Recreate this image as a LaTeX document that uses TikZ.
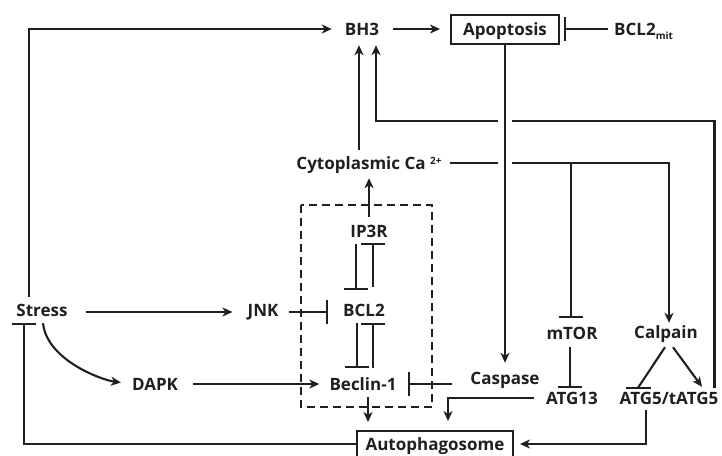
\documentclass[tikz,border=0pt]{standalone}
\usepackage{fontspec}
\setmainfont{Open Sans}
\usetikzlibrary{arrows.meta}
\definecolor{ink}{gray}{0.12}
\begin{document}
\begin{tikzpicture}[x=1pt,y=-1pt,
  lbl/.style={font=\fontsize{17}{19}\selectfont\bfseries, text=ink, inner sep=0pt, text height=12pt, text depth=0pt},
  boxn/.style={lbl, draw=ink, line width=2pt},
  con/.style={draw=ink, line width=2.1pt},
  arr/.style={con, -{Stealth[length=10pt,width=9pt,inset=3pt]}},
  inh/.style={con, -{Bar[width=24pt]}},
  gapline/.style={white, line width=14pt},
  dashbox/.style={draw=ink, line width=1.8pt, dash pattern=on 8pt off 5pt}]
\clip (0,0) rectangle (722,455);
\useasboundingbox (0,0) rectangle (722,455);

% nodes
\node[lbl] (bh3) at (362,29) {BH3};
\node[boxn, minimum width=108pt, minimum height=29pt] (apop) at (505,29) {Apoptosis};
\node[lbl, anchor=west] (bclm) at (614,29) {BCL2\raisebox{-4pt}{\fontsize{10}{10}\selectfont mit}};
\node[lbl] (cyto) at (369,163) {Cytoplasmic Ca \raisebox{5pt}{\fontsize{10}{10}\selectfont 2+}};
\node[lbl] (ip3r) at (369,231) {IP3R};
\node[lbl] (bcl2) at (364,310) {BCL2};
\node[lbl] (beclin) at (363,384) {Beclin-1};
\node[lbl] (jnk) at (263,310) {JNK};
\node[lbl] (stress) at (42,310) {Stress};
\node[lbl] (dapk) at (155,384) {DAPK};
\node[lbl] (casp) at (505,378) {Caspase};
\node[lbl] (mtor) at (572,333) {mTOR};
\node[lbl] (atg13) at (572,398) {ATG13};
\node[lbl] (calpain) at (666,332) {Calpain};
\node[lbl] (atg5) at (669,398) {ATG5/tATG5};
\node[boxn, minimum width=156pt, minimum height=26pt] (auto) at (435,444) {Autophagosome};

\coordinate (bend) at (376,121);

% dashed frame
\draw[dashbox] (301,205) rectangle (432,407);

% connectors
\draw[arr, shorten >=13pt] ([xshift=-13pt,yshift=7pt]stress.north) |- (bh3.west);
\draw[arr, shorten <=14pt, shorten >=10pt] (bh3.east) -- (apop.west);
\draw[inh, shorten <=6pt, shorten >=4pt] (bclm.west) -- (apop.east);
\draw[arr, shorten >=10pt] ([xshift=-4pt,yshift=4pt]atg5.north east) |- (bend) -- (bend |- bh3.south);
\draw[arr, shorten <=8pt, shorten >=3pt] (cyto.east) -| ([xshift=3pt]calpain.north);
\draw[inh, shorten >=9pt] ([xshift=-1pt]mtor.north |- cyto.east) -- ([xshift=-1pt]mtor.north);
\draw[gapline, shorten <=40pt, shorten >=40pt] (apop.south) -- (casp.north);
\draw[arr, shorten >=9pt] (apop.south) -- (casp.north);
\draw[arr, shorten <=7pt, shorten >=10pt] ([xshift=-3pt]bh3.south |- cyto.north) -- ([xshift=-3pt]bh3.south);
\draw[arr, shorten <=8pt, shorten >=9pt] (ip3r.north) -- (ip3r.north |- cyto.south);
\draw[inh, shorten <=7pt, shorten >=14pt] ([xshift=-13pt]ip3r.south) -- ([xshift=-13pt]ip3r.south |- bcl2.north);
\draw[inh, shorten <=17pt, shorten >=6pt] ([xshift=4pt]ip3r.south |- bcl2.north) -- ([xshift=4pt]ip3r.south);
\draw[inh, shorten <=7pt, shorten >=10pt] ([xshift=-12pt]ip3r.south |- bcl2.south) -- ([xshift=-12pt]ip3r.south |- beclin.north);
\draw[inh, shorten <=10pt, shorten >=7pt] ([xshift=4pt]ip3r.south |- beclin.north) -- ([xshift=4pt]ip3r.south |- bcl2.south);
\draw[arr, shorten <=18pt, shorten >=15pt] ([yshift=-2pt]stress.east) -- ([yshift=-2pt]jnk.west);
\draw[inh, shorten <=10pt, shorten >=15pt] ([yshift=-2pt]jnk.east) -- ([yshift=-2pt]jnk.east -| bcl2.west);
\draw[arr, shorten >=11pt] ([xshift=1pt,yshift=-7pt]stress.south) .. controls +(4,37) and +(-30,-4) .. (dapk.west);
\draw[arr, shorten <=15pt, shorten >=10pt] (dapk.east) -- (beclin.west);
\draw[inh, shorten <=18pt, shorten >=11pt] (casp.west |- beclin.east) -- (beclin.east);
\draw[arr, shorten <=7pt, shorten >=8pt] ([xshift=5pt]beclin.south) -- ([xshift=5pt]beclin.south |- auto.north);
\draw[arr, shorten <=12pt, shorten >=9pt] (atg13.west) -| ([xshift=13pt]auto.north);
\draw[inh, shorten <=8pt, shorten >=4pt] ([xshift=-2pt]mtor.south) -- ([xshift=-2pt]mtor.south |- atg13.north);
\draw[con] ([xshift=-1pt,yshift=-9pt]calpain.south) -- ([xshift=-31pt,yshift=4pt]atg5.north);
\draw[con] ([xshift=-43pt,yshift=4pt]atg5.north) -- ([xshift=-18pt,yshift=4pt]atg5.north);
\draw[arr] ([xshift=7pt,yshift=-9pt]calpain.south) -- ([xshift=33pt,yshift=5pt]atg5.north);
\draw[arr, shorten <=6pt, shorten >=6pt] ([xshift=-23pt]atg5.south) |- (auto.east);
\draw[inh, shorten >=7pt] (auto.west) -| ([xshift=-18pt]stress.south);
\end{tikzpicture}
\end{document}
